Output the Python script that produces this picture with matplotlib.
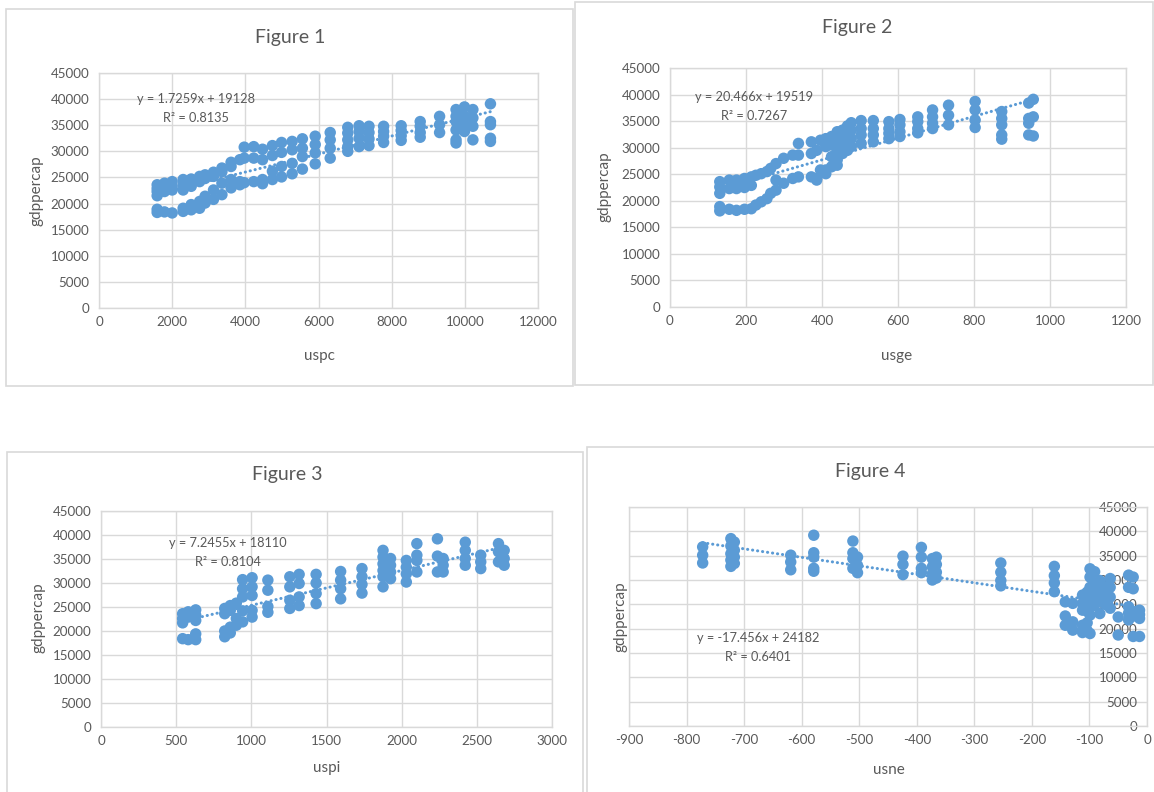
import numpy as np
import matplotlib
matplotlib.use("Agg")
import matplotlib.pyplot as plt
from matplotlib.patches import Rectangle
from matplotlib.ticker import FixedLocator, FuncFormatter

plt.rcParams['font.family'] = ['Lato', 'DejaVu Sans']
plt.rcParams['axes.unicode_minus'] = False

# ---- data: columns of x with the y values stacked at each x ----
USPC_X = [1590, 1790, 2000, 2300, 2520, 2750, 2900, 3130, 3360, 3610, 3850, 3970,
          4230, 4470, 4740, 4990, 5280, 5560, 5910, 6320, 6800, 7110, 7380, 7780,
          8260, 8780, 9310, 9760, 9890, 9990, 10220, 10700]
USPC_Y = [[23600, 22900, 22300, 21500, 18900, 18300],
          [23900, 23000, 22300, 18400],
          [24200, 23300, 22600, 18200],
          [24600, 23600, 22600, 19100, 18500],
          [24700, 23300, 19800, 18800],
          [25200, 24200, 20400, 19100],
          [25500, 24800, 21400, 20100],
          [26000, 25200, 22600, 20800],
          [26800, 26100, 23900, 21700],
          [27900, 27100, 24600, 23000],
          [28400, 24200, 23600],
          [30800, 28700, 24000],
          [30900, 28700, 24200],
          [30400, 28400, 24600, 23800],
          [31100, 29200, 26200, 24600],
          [31700, 29800, 27100, 25100],
          [31900, 30300, 27700, 25700],
          [32400, 30600, 29000, 26600],
          [32900, 31300, 29700, 27600],
          [33600, 32200, 30600, 28700],
          [34600, 33500, 32200, 30900, 30000],
          [34900, 33800, 32500, 30900],
          [34800, 33600, 32400, 31100],
          [34800, 33800, 32900, 31700],
          [34900, 34000, 33000, 32100],
          [35700, 34800, 33600, 32700],
          [36700, 35100, 33600],
          [38000, 36700, 35700, 34100, 32200, 31600],
          [37300, 36000, 34800],
          [38500, 36700, 35100, 33800],
          [38000, 36400, 34800, 32200],
          [39100, 35700, 35100, 32500, 31900]]

USGE_X = [131, 156, 175, 196, 214, 226, 240, 255, 265, 279, 299, 323, 338, 372, 386,
          396, 410, 425, 440, 454, 467, 477, 503, 535, 576, 605, 652, 691, 733, 803,
          873, 944, 956]
USGE_Y = [[23600, 22600, 21400, 18900, 18100],
          [23900, 22300, 18400],
          [23900, 22300, 18200],
          [24200, 22500, 18400],
          [24500, 22900, 18500],
          [24800, 19200],
          [25100, 19800],
          [25500, 20400],
          [26100, 21400],
          [27000, 23900, 22000],
          [28000, 23300],
          [28600, 24200],
          [30800, 28600, 24500],
          [31100, 28900, 24500],
          [29500, 24200, 23900],
          [31400, 25800],
          [31700, 30200, 25800, 25100],
          [32100, 30500, 28300, 26400],
          [33000, 31400, 29500, 27700, 26700],
          [33300, 32100, 30200, 28900],
          [34100, 32700, 31100, 29500],
          [34700, 33300, 31700, 30200],
          [35100, 33600, 32400, 30800],
          [35100, 33600, 32400, 31100],
          [34900, 33600, 32700, 31700],
          [35300, 34300, 33000, 32100],
          [35800, 34900, 33600, 32800],
          [37100, 35800, 34600, 33600],
          [38000, 36100, 34300],
          [38700, 37100, 35200, 33800],
          [36800, 35500, 34300, 32400, 31600],
          [38400, 35500, 34600, 32400],
          [39100, 35800, 32200]]

USPI_X = [543, 580, 630, 823, 860, 900, 942, 1005, 1110, 1256, 1318, 1431, 1594,
          1736, 1876, 1926, 2031, 2101, 2238, 2276, 2423, 2526, 2644, 2682]
USPI_Y = [[23600, 22600, 21700, 18400],
          [24000, 22900, 18200],
          [24400, 23300, 22200, 19400, 18200],
          [24700, 23600, 20000, 18800],
          [25300, 24300, 20800, 19600],
          [25800, 22600, 21200],
          [30700, 28800, 27100, 24200, 21900],
          [31100, 29200, 27400, 24300, 22900],
          [30600, 28500, 25100, 23900],
          [31300, 29200, 26400, 24700],
          [31800, 29900, 27100, 25300],
          [31800, 30000, 27800, 25700],
          [32400, 30600, 28800, 26700],
          [33000, 31300, 29700, 27900],
          [36800, 35400, 34000, 32600, 31300, 29200],
          [35100, 33700, 32300, 30900],
          [34700, 33300, 31900, 30200],
          [38200, 35800, 34700, 32300],
          [39200, 35600, 32300],
          [35100, 33700, 32300],
          [38500, 36800, 35100, 33700],
          [35800, 34400, 33000],
          [38200, 36500, 34400],
          [36800, 35100, 33700]]

USNE_X = [-772, -723, -717, -619, -579, -511, -503, -424, -392, -373, -366, -254,
          -161, -142, -129, -112, -104, -99, -91, -82, -73, -64, -50, -32, -24, -13]
USNE_Y = [[36800, 35100, 33500],
          [38500, 37000, 35400, 34100, 32800],
          [37800, 36100, 34700, 33400],
          [35100, 33700, 32100],
          [39200, 35600, 34700, 32400, 31800],
          [38000, 35600, 34400, 32400],
          [34700, 33000, 31500],
          [34900, 33200, 31100],
          [36700, 34700, 32400, 31500],
          [34400, 32700, 31300, 30000],
          [34700, 33200, 31600, 30400],
          [33500, 31600, 29900, 28800],
          [32800, 30900, 29400, 27600],
          [25500, 22600, 20700],
          [25200, 21400, 19700],
          [26900, 25200, 23800, 20700, 19200],
          [27500, 26000, 24800, 23600, 21200, 19600],
          [32300, 30600, 28500, 26500, 24500, 22800, 19000],
          [31700, 29200, 27200, 25600, 24800],
          [29900, 27900, 26800, 25800, 23100],
          [28600, 27300, 25000],
          [30300, 28500, 26500, 24200],
          [22400, 18700],
          [31000, 28500, 24500, 23200, 21800],
          [30600, 28200, 23500, 22600, 18400],
          [23800, 22900, 22100, 18400]]

# Excel trendline equations shown on the charts: (slope, intercept, R^2)
TRENDS = [(1.7259, 19128, 0.8135), (20.466, 19519, 0.7267),
          (7.2455, 18110, 0.8104), (-17.456, 24182, 0.6401)]
TITLES = ['Figure 1', 'Figure 2', 'Figure 3', 'Figure 4']
XNAMES = ['uspc', 'usge', 'uspi', 'usne']

W, H = 1154, 792
BLUE = '#5B9BD5'
GRID = '#D9D9D9'
TXT = '#595959'

fig = plt.figure(figsize=(W / 100, H / 100), dpi=100)


def fx(x):
    return x / W


def fy(y):
    return 1 - y / H


def flat(cols, groups):
    xs = [c for c, g in zip(cols, groups) for _ in g]
    ys = [v for g in groups for v in g]
    return np.array(xs, float), np.array(ys, float)


# panel frames (pixel boxes: left, top, right, bottom)
for l, t, r, b in [(6, 9, 573, 386), (575, 2, 1153, 385),
                   (7, 452, 583, 800), (587, 447, 1160, 800)]:
    fig.patches.append(Rectangle((fx(l), fy(b)), fx(r - l), (b - t) / H,
                                 transform=fig.transFigure, fill=False,
                                 edgecolor=GRID, lw=1.2))

panels = [
    dict(box=(99, 73, 538, 308), xlim=(0, 12000), xstep=2000, data=(USPC_X, USPC_Y),
         title=(290, 38), xl=(319, 356), yl=(37, 191), eq=(196, 99)),
    dict(box=(670, 68, 1126, 307), xlim=(0, 1200), xstep=200, data=(USGE_X, USGE_Y),
         title=(857, 28), xl=(897, 356), yl=(604, 187), eq=(754, 97)),
    dict(box=(101, 511, 552, 727), xlim=(0, 3000), xstep=500, data=(USPI_X, USPI_Y),
         title=(287, 475), xl=(327, 768), yl=(38, 618), eq=(228, 543)),
    dict(box=(629, 507, 1147, 726), xlim=(-900, 0), xstep=100, data=(USNE_X, USNE_Y),
         title=(870, 471), xl=(889, 770), yl=(621, 617), eq=(758, 638)),
]

for i, p in enumerate(panels):
    l, t, r, b = p['box']
    ax = fig.add_axes([fx(l), fy(b), fx(r - l), (b - t) / H])
    x, y = flat(*p['data'])
    slope, icpt, r2 = TRENDS[i]

    ax.scatter(x, y, s=68, color=BLUE, edgecolors='none', zorder=3, clip_on=False)
    xt = np.array([x.min(), x.max()])
    ax.plot(xt, slope * xt + icpt, color=BLUE, lw=2.2, ls=(0, (0.05, 1.6)),
            dash_capstyle='round', zorder=2)

    ax.set_xlim(*p['xlim'])
    ax.set_ylim(0, 45000)
    ax.xaxis.set_major_locator(FixedLocator(np.arange(p['xlim'][0], p['xlim'][1] + 1, p['xstep'])))
    ax.yaxis.set_major_locator(FixedLocator(np.arange(0, 45001, 5000)))
    fmt = FuncFormatter(lambda v, _: '%d' % round(v))
    ax.xaxis.set_major_formatter(fmt)
    ax.yaxis.set_major_formatter(fmt)
    ax.grid(True, color=GRID, lw=1.0, zorder=0)
    ax.set_axisbelow(True)
    for s in ax.spines.values():
        s.set_color(GRID)
        s.set_linewidth(1.0)
    ax.tick_params(length=0, labelsize=9.6, labelcolor=TXT)
    ax.tick_params(axis='x', pad=6)
    ax.tick_params(axis='y', pad=7)

    if i == 3:
        # Excel draws the value axis where x = 0, labels just left of it
        ax.yaxis.tick_right()
        ax.tick_params(axis='y', length=0, pad=-7)
        for tk in ax.yaxis.get_major_ticks():
            tk.label2.set_horizontalalignment('right')

    fig.text(fx(p['title'][0]), fy(p['title'][1]), TITLES[i], fontsize=14,
             color=TXT, ha='center', va='center')
    fig.text(fx(p['xl'][0]), fy(p['xl'][1]), XNAMES[i], fontsize=11,
             color=TXT, ha='center', va='center')
    fig.text(fx(p['yl'][0]), fy(p['yl'][1]), 'gdppercap', fontsize=11,
             color=TXT, ha='center', va='center', rotation=90)
    ex, ey = p['eq']
    sign = '+' if icpt >= 0 else '-'
    fig.text(fx(ex), fy(ey), 'y = %gx %s %d' % (slope, sign, abs(icpt)),
             fontsize=9.2, color=TXT, ha='center', va='center')
    fig.text(fx(ex), fy(ey + 19), 'R\u00b2 = %.4f' % r2,
             fontsize=9.2, color=TXT, ha='center', va='center')

fig.savefig('out.png', dpi=100, facecolor='white')
